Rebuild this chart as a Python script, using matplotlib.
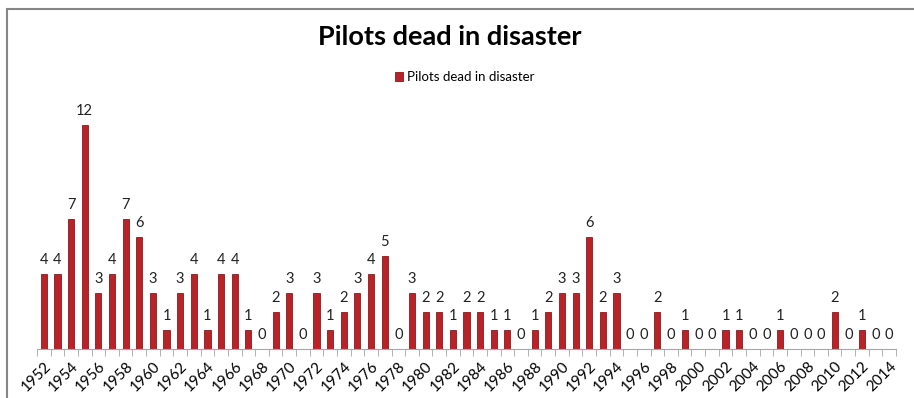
import matplotlib
matplotlib.use('Agg')
import matplotlib.pyplot as plt
from matplotlib.patches import Rectangle
import numpy as np

plt.rcParams['font.family'] = ['Lato', 'DejaVu Sans']

# data
years = list(range(1952, 2015))
deaths = [4, 4, 7, 12, 3, 4, 7, 6, 3, 1, 3, 4, 1, 4, 4, 1, 0, 2, 3, 0,
          3, 1, 2, 3, 4, 5, 0, 3, 2, 2, 1, 2, 2, 1, 1, 0, 1, 2, 3, 3,
          6, 2, 3, 0, 0, 2, 0, 1, 0, 0, 1, 1, 0, 0, 1, 0, 0, 0, 2, 0,
          1, 0, 0]
title = 'Pilots dead in disaster'

W, H = 914, 398
fig = plt.figure(figsize=(W / 100, H / 100), dpi=100)

# chart frame (only left and top edges visible)
fig.add_artist(Rectangle((7 / W, -0.1), 2, (H - 9) / H + 0.1,
                         transform=fig.transFigure, fill=False,
                         edgecolor='#868686', linewidth=1.5))
# cut-off text from the page above
fig.text(20 / W, (H + 6) / H, 'ed.', fontsize=12, ha='left', va='center')

ax = fig.add_axes([37 / W, 49 / H, (896 - 37) / W, 261 / H])
x = np.arange(len(years))
ax.bar(x, deaths, width=0.45, color='#B82328', edgecolor='#8A181C',
       linewidth=0.6, label=title)

for xi, v in zip(x, deaths):
    ax.annotate(str(v), (xi, v), xytext=(0, 5), textcoords='offset points',
                ha='center', va='bottom', fontsize=10.5, color='#222222')

ax.set_xlim(-0.5, len(years) - 0.5)
ax.set_ylim(0, 14)
ax.set_yticks([])
for s in ['left', 'right', 'top']:
    ax.spines[s].set_visible(False)
ax.spines['bottom'].set_color('#A6A6A6')

ax.set_xticks(x[::2])
ax.set_xticklabels([str(y) for y in years[::2]], rotation=45, ha='right',
                   va='top', rotation_mode='anchor', fontsize=11)
ax.tick_params(axis='x', which='major', length=0, pad=7)
ax.set_xticks(np.arange(-0.5, len(years), 1), minor=True)
ax.tick_params(axis='x', which='minor', length=5, color='#A6A6A6')

fig.text(450 / W, (H - 37) / H, title, fontsize=19.5, fontweight='bold',
         ha='center', va='center')
leg = fig.legend(loc='center', bbox_to_anchor=(465 / W, (H - 77) / H),
                 frameon=False, fontsize=9.5, handlelength=0.6,
                 handleheight=0.6, handletextpad=0.3)

plt.savefig('out.png', dpi=100)
